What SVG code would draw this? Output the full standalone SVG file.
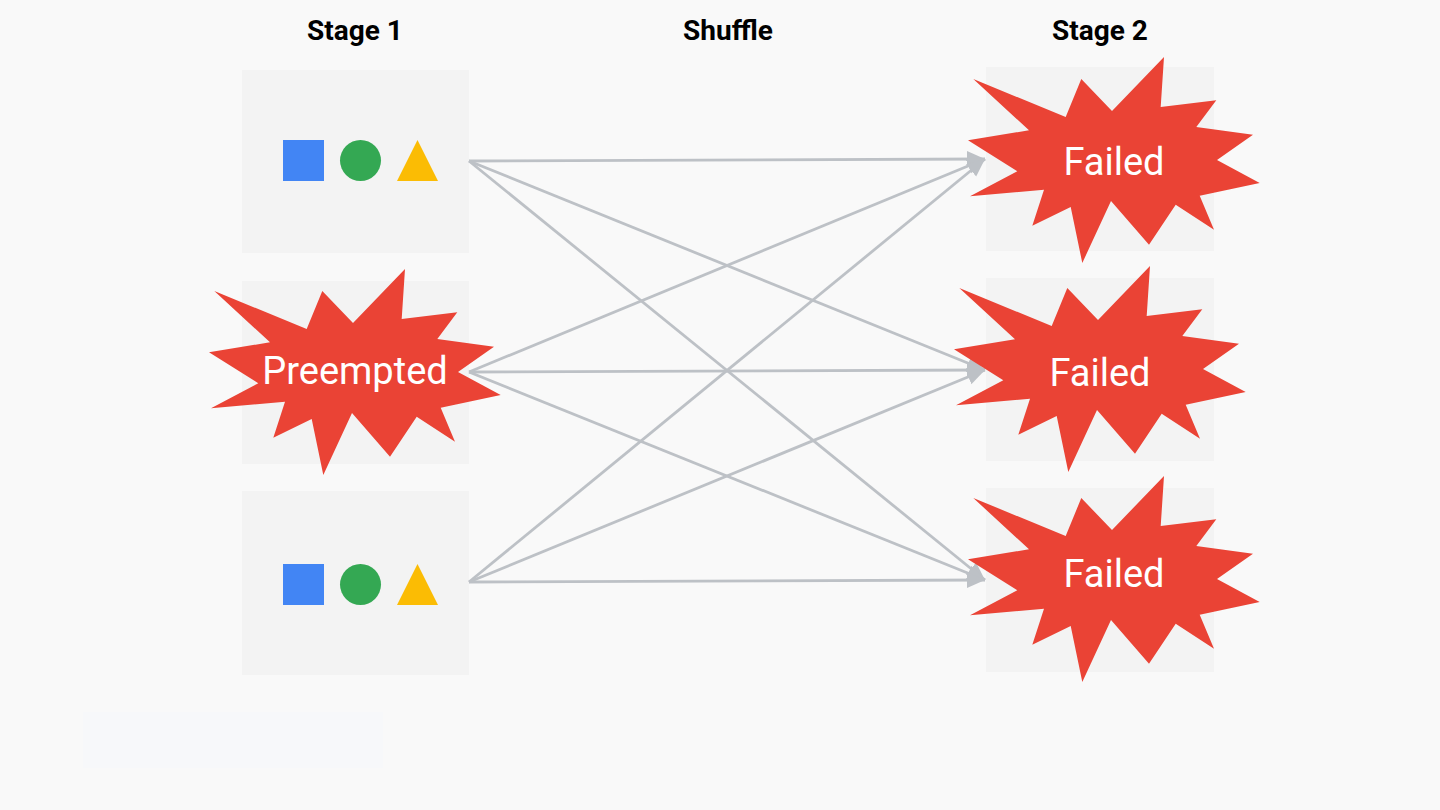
<svg xmlns="http://www.w3.org/2000/svg" xmlns:xlink="http://www.w3.org/1999/xlink" width="1440" height="810" viewBox="0 0 1440 810">
<style>
.bg{fill:#f9f9f9}
.box{fill:#f3f3f3}
.title{font-family:Roboto,"Liberation Sans",sans-serif;font-weight:bold;font-size:28px;fill:#000;text-anchor:middle}
.burst{fill:#ea4335}
.btext{font-family:Roboto,"Liberation Sans",sans-serif;font-size:38px;fill:#fff;text-anchor:middle}
.conn{stroke:#bdc1c6;stroke-width:2.8;fill:none}
</style>
<defs>
<marker id="arrow" markerUnits="userSpaceOnUse" markerWidth="20" markerHeight="18" refX="18" refY="8" orient="auto">
<path d="M0,0 L18,8 L0,16 Z" fill="#bdc1c6"/>
</marker>
<path id="burstShape" d="M405,269 L401.7,319 L457.3,312.3 L437.3,339 L494,346.7 L458,372 L500.7,395 L440.7,407.7 L455,441.7 L416.7,416.7 L390,456.7 L352,413 L323.3,475 L311.7,419 L273.3,437.7 L285,401.7 L211,408.3 L258.3,383.3 L209,352.3 L270,342.3 L214.3,291 L306.7,329 L322.3,291 L353,323 Z"/>
</defs>
<rect class="bg" x="0" y="0" width="1440" height="810"/>
<rect x="83" y="712" width="300" height="56" fill="#f7f8fa"/>

<g id="titles">
<text class="title" x="355" y="40">Stage 1</text>
<text class="title" x="728" y="40">Shuffle</text>
<text class="title" x="1100" y="40">Stage 2</text>
</g>

<g id="s1-task1">
<rect class="box" x="242" y="70" width="227" height="183"/>
<rect x="283" y="140" width="41" height="41" fill="#4285f4"/>
<circle cx="360.5" cy="160.5" r="20.5" fill="#34a853"/>
<polygon points="397,181 438,181 417.5,140" fill="#fbbc04"/>
</g>

<g id="s1-task2">
<rect class="box" x="242" y="281" width="227" height="183"/>
</g>

<g id="s1-task3">
<rect class="box" x="242" y="491" width="227" height="184"/>
<rect x="283" y="564" width="41" height="41" fill="#4285f4"/>
<circle cx="360.5" cy="584.5" r="20.5" fill="#34a853"/>
<polygon points="397,605 438,605 417.5,564" fill="#fbbc04"/>
</g>

<g id="s2-task1">
<rect class="box" x="986" y="67" width="228" height="184"/>
</g>
<g id="s2-task2">
<rect class="box" x="986" y="278" width="228" height="183"/>
</g>
<g id="s2-task3">
<rect class="box" x="986" y="488" width="228" height="184"/>
</g>

<g id="connectors">
<line class="conn" x1="469" y1="161" x2="985" y2="159" marker-end="url(#arrow)"/>
<line class="conn" x1="469" y1="161" x2="985" y2="370" marker-end="url(#arrow)"/>
<line class="conn" x1="469" y1="161" x2="985" y2="580" marker-end="url(#arrow)"/>
<line class="conn" x1="469" y1="372" x2="985" y2="159" marker-end="url(#arrow)"/>
<line class="conn" x1="469" y1="372" x2="985" y2="370" marker-end="url(#arrow)"/>
<line class="conn" x1="469" y1="372" x2="985" y2="580" marker-end="url(#arrow)"/>
<line class="conn" x1="469" y1="582" x2="985" y2="159" marker-end="url(#arrow)"/>
<line class="conn" x1="469" y1="582" x2="985" y2="370" marker-end="url(#arrow)"/>
<line class="conn" x1="469" y1="582" x2="985" y2="580" marker-end="url(#arrow)"/>
</g>

<g id="preempted">
<use xlink:href="#burstShape" class="burst"/>
<text class="btext" x="355" y="384">Preempted</text>
</g>
<g id="failed1">
<use xlink:href="#burstShape" class="burst" transform="translate(759,-212)"/>
<text class="btext" x="1114" y="175">Failed</text>
</g>
<g id="failed2">
<use xlink:href="#burstShape" class="burst" transform="translate(745,-3)"/>
<text class="btext" x="1100" y="386">Failed</text>
</g>
<g id="failed3">
<use xlink:href="#burstShape" class="burst" transform="translate(759,207)"/>
<text class="btext" x="1114" y="587">Failed</text>
</g>
</svg>
